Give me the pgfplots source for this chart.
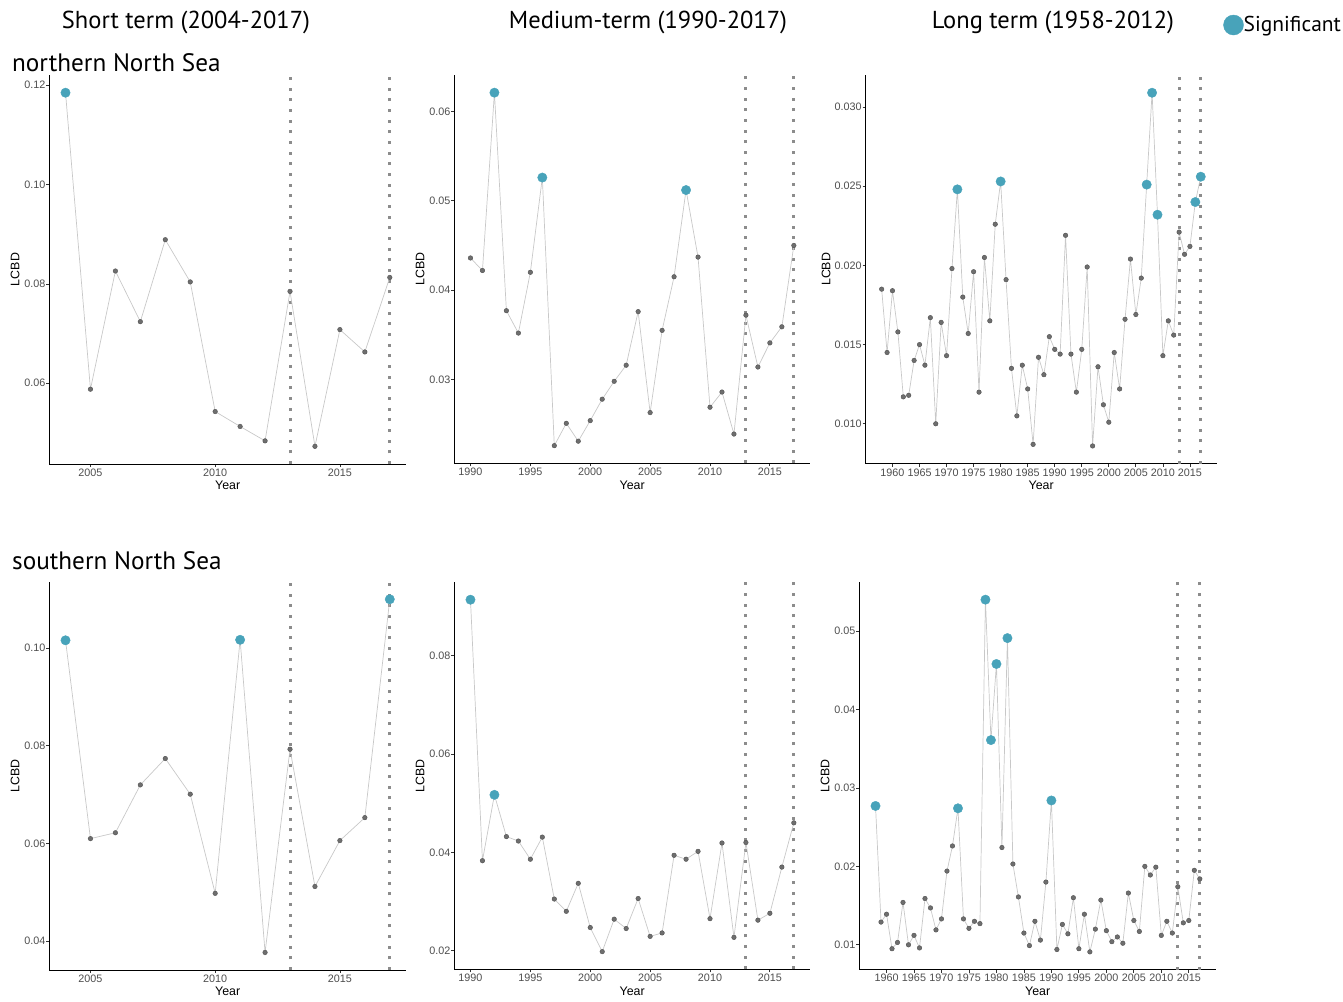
\documentclass[border=0pt]{standalone}
\usepackage{pgfplots}
\pgfplotsset{compat=1.18}
\usepackage{pgfplotstable}
\usepackage{fontspec}
\setmainfont{Liberation Sans}
\newfontfamily\ptsans{PT Sans}
\newcommand\tickfont{\fontsize{10.8}{12}\selectfont}
\newcommand\labfont{\fontsize{12.4}{14}\selectfont}
\newcommand\ttlfont{\ptsans\fontsize{24.5}{26}\selectfont}
\newcommand\rowfont{\ptsans\fontsize{25.2}{26}\selectfont}
\definecolor{sigc}{RGB}{72,163,186}
\definecolor{ptgray}{RGB}{110,110,110}
\definecolor{ptedge}{RGB}{80,80,80}
\definecolor{linegray}{RGB}{200,200,200}
\definecolor{vgray}{RGB}{140,140,140}
\definecolor{tickgray}{RGB}{77,77,77}

\pgfplotsset{
  panel/.style={scale only axis, anchor=south west, clip=false,
    axis x line=bottom, axis y line=left,
    axis line style={-, black, line width=0.8pt},
    tick align=outside, major tick length=3pt,
    tick style={black!80, line width=0.8pt},
    scaled y ticks=false, scaled x ticks=false,
    /pgf/number format/assume math mode=true,
    ticklabel style={font=\tickfont, text=tickgray, inner sep=0pt},
    xticklabel style={/pgf/number format/set thousands separator={}, anchor=north, yshift=-1.7pt},
    yticklabel style={/pgf/number format/.cd, fixed, fixed zerofill, precision=2, /tikz/.cd, anchor=east, xshift=-0.8pt},
    xlabel=Year, ylabel=LCBD,
    label style={font=\labfont, inner sep=0pt},
    xlabel style={at={(axis description cs:0.5,0)}, anchor=center, yshift=-21.7pt},
    ylabel style={at={([xshift=-34.3pt]axis description cs:0,0.5)}, anchor=center},
  },
  conn/.style={linegray, line width=0.7pt, mark=none},
  sigpt/.style={scatter, only marks, scatter src=explicit symbolic,
    scatter/classes={0={mark=none}, 1={mark=*, mark size=4.7pt, sigc}}},
  nspt/.style={scatter, only marks, scatter src=explicit symbolic,
    scatter/classes={0={mark=*, mark size=2.3pt, draw=ptedge, fill=ptgray, line width=0.4pt}, 1={mark=none}}},
  vline/.style={vgray, line width=3pt, dash pattern=on 3pt off 7.67pt, mark=none},
}

\pgfplotstableread{
x v s
2004 0.1185 1
2005 0.0588 0
2006 0.0826 0
2007 0.0724 0
2008 0.0889 0
2009 0.0804 0
2010 0.0543 0
2011 0.0513 0
2012 0.0484 0
2013 0.0785 0
2014 0.0473 0
2015 0.0708 0
2016 0.0663 0
2017 0.0813 0
}\tTL

\pgfplotstableread{
x v s
1990 0.0436 0
1991 0.0422 0
1992 0.0621 1
1993 0.0377 0
1994 0.0352 0
1995 0.0420 0
1996 0.0526 1
1997 0.0226 0
1998 0.0251 0
1999 0.0231 0
2000 0.0254 0
2001 0.0278 0
2002 0.0298 0
2003 0.0316 0
2004 0.0376 0
2005 0.0263 0
2006 0.0355 0
2007 0.0415 0
2008 0.0512 1
2009 0.0437 0
2010 0.0269 0
2011 0.0286 0
2012 0.0239 0
2013 0.0372 0
2014 0.0314 0
2015 0.0341 0
2016 0.0359 0
2017 0.0450 0
}\tTM

\pgfplotstableread{
x v s
1958 0.0185 0
1959 0.0145 0
1960 0.0184 0
1961 0.0158 0
1962 0.0117 0
1963 0.0118 0
1964 0.0140 0
1965 0.0150 0
1966 0.0137 0
1967 0.0167 0
1968 0.0100 0
1969 0.0164 0
1970 0.0143 0
1971 0.0198 0
1972 0.0248 1
1973 0.0180 0
1974 0.0157 0
1975 0.0196 0
1976 0.0120 0
1977 0.0205 0
1978 0.0165 0
1979 0.0226 0
1980 0.0253 1
1981 0.0191 0
1982 0.0135 0
1983 0.0105 0
1984 0.0137 0
1985 0.0122 0
1986 0.0087 0
1987 0.0142 0
1988 0.0131 0
1989 0.0155 0
1990 0.0147 0
1991 0.0144 0
1992 0.0219 0
1993 0.0144 0
1994 0.0120 0
1995 0.0147 0
1996 0.0199 0
1997 0.0086 0
1998 0.0136 0
1999 0.0112 0
2000 0.0101 0
2001 0.0145 0
2002 0.0122 0
2003 0.0166 0
2004 0.0204 0
2005 0.0169 0
2006 0.0192 0
2007 0.0251 1
2008 0.0309 1
2009 0.0232 1
2010 0.0143 0
2011 0.0165 0
2012 0.0156 0
2013 0.0221 0
2014 0.0207 0
2015 0.0212 0
2016 0.0240 1
2017 0.0256 1
}\tTR

\pgfplotstableread{
x v s
2004 0.1016 1
2005 0.0610 0
2006 0.0622 0
2007 0.0720 0
2008 0.0774 0
2009 0.0701 0
2010 0.0498 0
2011 0.1017 1
2012 0.0377 0
2013 0.0793 0
2014 0.0512 0
2015 0.0606 0
2016 0.0653 0
2017 0.1100 1
}\tBL

\pgfplotstableread{
x v s
1990 0.0914 1
1991 0.0383 0
1992 0.0517 1
1993 0.0432 0
1994 0.0423 0
1995 0.0386 0
1996 0.0431 0
1997 0.0305 0
1998 0.0280 0
1999 0.0337 0
2000 0.0247 0
2001 0.0198 0
2002 0.0264 0
2003 0.0245 0
2004 0.0306 0
2005 0.0229 0
2006 0.0236 0
2007 0.0394 0
2008 0.0386 0
2009 0.0402 0
2010 0.0265 0
2011 0.0419 0
2012 0.0227 0
2013 0.0420 0
2014 0.0262 0
2015 0.0276 0
2016 0.0370 0
2017 0.0460 0
}\tBM

\pgfplotstableread{
x v s
1958 0.0277 1
1959 0.0129 0
1960 0.0139 0
1961 0.0095 0
1962 0.0103 0
1963 0.0154 0
1964 0.0100 0
1965 0.0112 0
1966 0.0096 0
1967 0.0159 0
1968 0.0147 0
1969 0.0119 0
1970 0.0133 0
1971 0.0194 0
1972 0.0226 0
1973 0.0274 1
1974 0.0133 0
1975 0.0121 0
1976 0.0130 0
1977 0.0127 0
1978 0.0540 1
1979 0.0361 1
1980 0.0458 1
1981 0.0224 0
1982 0.0491 1
1983 0.0203 0
1984 0.0161 0
1985 0.0115 0
1986 0.0099 0
1987 0.0130 0
1988 0.0106 0
1989 0.0180 0
1990 0.0284 1
1991 0.0094 0
1992 0.0126 0
1993 0.0114 0
1994 0.0160 0
1995 0.0095 0
1996 0.0139 0
1997 0.0091 0
1998 0.0120 0
1999 0.0157 0
2000 0.0118 0
2001 0.0104 0
2002 0.0110 0
2003 0.0102 0
2004 0.0166 0
2005 0.0131 0
2006 0.0117 0
2007 0.0200 0
2008 0.0189 0
2009 0.0199 0
2010 0.0112 0
2011 0.0130 0
2012 0.0115 0
2013 0.0174 0
2014 0.0128 0
2015 0.0131 0
2016 0.0195 0
2017 0.0184 0
}\tBR

\begin{document}
\begin{tikzpicture}
\path[use as bounding box] (0pt,0pt) rectangle (1343pt,-1001pt);

\node[anchor=base, inner sep=0pt, font=\ttlfont] at (186pt,-28.5pt) {Short term (2004-2017)};
\node[anchor=base, inner sep=0pt, font=\ttlfont] at (648pt,-28.5pt) {Medium-term (1990-2017)};
\node[anchor=base, inner sep=0pt, font=\ttlfont] at (1053pt,-28.5pt) {Long term (1958-2012)};
\node[anchor=base west, inner sep=0pt, font=\rowfont] at (12pt,-71pt) {northern North Sea};
\node[anchor=base west, inner sep=0pt, font=\rowfont] at (12pt,-569.5pt) {southern North Sea};

% Top-left
\begin{axis}[panel, at={(49.3pt,-464pt)}, width=356.7pt, height=389pt,
  xmin=2003.35, xmax=2017.65, ymin=0.04374, ymax=0.12206,
  xtick={2005,2010,2015}, ytick={0.06,0.08,0.10,0.12}]
\addplot[vline] coordinates {(2013,0.04374) (2013,0.12206)};
\addplot[vline] coordinates {(2017,0.04374) (2017,0.12206)};
\addplot[sigpt] table[x=x,y=v,meta=s] {\tTL};
\addplot[conn] table[x=x,y=v] {\tTL};
\addplot[nspt] table[x=x,y=v,meta=s] {\tTL};
\end{axis}

% Top-middle
\begin{axis}[panel, at={(454.3pt,-463.3pt)}, width=355.7pt, height=388.3pt,
  xmin=1988.65, xmax=2018.35, ymin=0.020625, ymax=0.064075,
  xtick={1990,1995,...,2015}, ytick={0.03,0.04,0.05,0.06}]
\addplot[vline] coordinates {(2013,0.020625) (2013,0.064075)};
\addplot[vline] coordinates {(2017,0.020625) (2017,0.064075)};
\addplot[sigpt] table[x=x,y=v,meta=s] {\tTM};
\addplot[conn] table[x=x,y=v] {\tTM};
\addplot[nspt] table[x=x,y=v,meta=s] {\tTM};
\end{axis}

% Top-right
\begin{axis}[panel, at={(865.7pt,-463.7pt)}, width=351pt, height=388.7pt,
  xmin=1955.05, xmax=2019.95, ymin=0.00748, ymax=0.03202,
  xtick={1960,1965,...,2015}, ytick={0.010,0.015,0.020,0.025,0.030},
  yticklabel style={/pgf/number format/precision=3},
  ylabel style={at={([xshift=-39.7pt]axis description cs:0,0.5)}},
  legend style={at={(axis description cs:1.0188,1.1286)}, anchor=west, draw=none, fill=none,
    inner sep=0pt, outer sep=0pt, nodes={inner sep=0pt, font=\ptsans\fontsize{21.5}{22}\selectfont},
    /tikz/every even column/.append style={column sep=2pt}},
  legend cell align=left]
\addlegendimage{legend image code/.code={\fill[sigc] (10pt,0pt) circle (10pt);}}
\addlegendentry{Significant}
\addplot[vline, forget plot] coordinates {(2013,0.00748) (2013,0.03202)};
\addplot[vline, forget plot] coordinates {(2017,0.00748) (2017,0.03202)};
\addplot[sigpt, forget plot] table[x=x,y=v,meta=s] {\tTR};
\addplot[conn, forget plot] table[x=x,y=v] {\tTR};
\addplot[nspt, forget plot] table[x=x,y=v,meta=s] {\tTR};
\end{axis}

% Bottom-left
\begin{axis}[panel, at={(49.3pt,-970pt)}, width=356.7pt, height=388.3pt,
  xmin=2003.35, xmax=2017.65, ymin=0.0341, ymax=0.1136,
  xtick={2005,2010,2015}, ytick={0.04,0.06,0.08,0.10}]
\addplot[vline] coordinates {(2013,0.0341) (2013,0.1136)};
\addplot[vline] coordinates {(2017,0.0341) (2017,0.1136)};
\addplot[sigpt] table[x=x,y=v,meta=s] {\tBL};
\addplot[conn] table[x=x,y=v] {\tBL};
\addplot[nspt] table[x=x,y=v,meta=s] {\tBL};
\end{axis}

% Bottom-middle
\begin{axis}[panel, at={(454.3pt,-969.3pt)}, width=355.7pt, height=387.3pt,
  xmin=1988.65, xmax=2018.35, ymin=0.0162, ymax=0.0950,
  xtick={1990,1995,...,2015}, ytick={0.02,0.04,0.06,0.08}]
\addplot[vline] coordinates {(2013,0.0162) (2013,0.0950)};
\addplot[vline] coordinates {(2017,0.0162) (2017,0.0950)};
\addplot[sigpt] table[x=x,y=v,meta=s] {\tBM};
\addplot[conn] table[x=x,y=v] {\tBM};
\addplot[nspt] table[x=x,y=v,meta=s] {\tBM};
\end{axis}

% Bottom-right
\begin{axis}[panel, at={(859.3pt,-969.5pt)}, width=356.7pt, height=387.5pt,
  xmin=1955.05, xmax=2019.95, ymin=0.00685, ymax=0.05625,
  xtick={1960,1965,...,2015}, ytick={0.01,0.02,0.03,0.04,0.05}]
\addplot[vline] coordinates {(2013,0.00685) (2013,0.05625)};
\addplot[vline] coordinates {(2017,0.00685) (2017,0.05625)};
\addplot[sigpt] table[x=x,y=v,meta=s] {\tBR};
\addplot[conn] table[x=x,y=v] {\tBR};
\addplot[nspt] table[x=x,y=v,meta=s] {\tBR};
\end{axis}
\end{tikzpicture}
\end{document}
